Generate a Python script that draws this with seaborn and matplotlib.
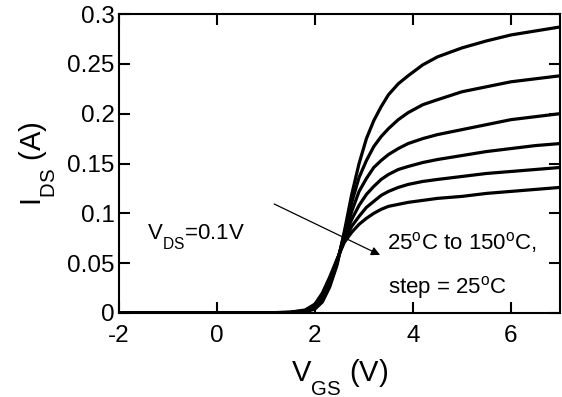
import pandas as pd
import seaborn as sns
import matplotlib.pyplot as plt
import matplotlib._mathtext as mathtext_internal

# gate voltage samples (V)
vgs = [-2, 0, 1, 1.5, 1.8, 2.0, 2.15, 2.3, 2.45, 2.6, 2.75, 2.9, 3.05, 3.2, 3.35,
       3.5, 3.7, 3.9, 4.2, 4.5, 5.0, 5.5, 6.0, 6.5, 7.0]

# drain current (A), 25C .. 150C
ids_25 = [0, 0, 0, 0.0002, 0.001, 0.004, 0.011, 0.026, 0.048, 0.082, 0.119, 0.150, 0.175,
          0.193, 0.207, 0.219, 0.230, 0.238, 0.249, 0.257, 0.266, 0.273, 0.279, 0.283, 0.287]
ids_50 = [0, 0, 0, 0.0003, 0.0013, 0.005, 0.012, 0.028, 0.050, 0.080, 0.111, 0.136, 0.153,
          0.167, 0.177, 0.185, 0.194, 0.201, 0.209, 0.214, 0.222, 0.227, 0.232, 0.235, 0.238]
ids_75 = [0, 0, 0, 0.0004, 0.0017, 0.006, 0.014, 0.030, 0.051, 0.078, 0.102, 0.122, 0.135,
          0.146, 0.153, 0.159, 0.165, 0.170, 0.175, 0.179, 0.184, 0.189, 0.194, 0.197, 0.200]
ids_100 = [0, 0, 0, 0.0005, 0.002, 0.007, 0.016, 0.032, 0.052, 0.076, 0.094, 0.108, 0.119,
           0.127, 0.134, 0.139, 0.144, 0.147, 0.151, 0.154, 0.158, 0.162, 0.165, 0.168, 0.170]
ids_125 = [0, 0, 0.0001, 0.0007, 0.0025, 0.008, 0.018, 0.034, 0.053, 0.073, 0.087, 0.097, 0.106,
           0.112, 0.118, 0.122, 0.126, 0.129, 0.132, 0.134, 0.137, 0.140, 0.142, 0.144, 0.146]
ids_150 = [0, 0, 0.0001, 0.0009, 0.003, 0.009, 0.020, 0.036, 0.054, 0.071, 0.081, 0.089, 0.095,
           0.100, 0.104, 0.107, 0.109, 0.111, 0.113, 0.115, 0.117, 0.120, 0.122, 0.124, 0.126]

temps = [25, 50, 75, 100, 125, 150]
curves = [ids_25, ids_50, ids_75, ids_100, ids_125, ids_150]

rows = []
for t, c in zip(temps, curves):
    for v, i in zip(vgs, c):
        rows.append({'VGS': v, 'IDS': i, 'T': t})
df = pd.DataFrame(rows)

sns.set_style('ticks')
plt.rcParams['font.family'] = ['Liberation Sans', 'DejaVu Sans']
plt.rcParams['mathtext.fontset'] = 'custom'
plt.rcParams['mathtext.rm'] = 'Liberation Sans'
plt.rcParams['mathtext.it'] = 'Liberation Sans'
plt.rcParams['text.color'] = 'black'
plt.rcParams['axes.labelcolor'] = 'black'

# subscripts in the original sit well below the baseline
try:
    mathtext_internal.FontConstantsBase.sub1 = 0.9
except Exception:
    pass

fig = plt.figure(figsize=(5.62, 3.97), dpi=100)
ax = fig.add_axes([0.2117, 0.2116, 0.7847, 0.7531])

sns.lineplot(data=df, x='VGS', y='IDS', hue='T', palette=['black'] * 6,
             linewidth=2.3, legend=False, ax=ax)

ax.set_xlim(-2, 7)
ax.set_ylim(0, 0.3)
ax.set_xticks([-2, 0, 2, 4, 6])
ax.set_xticklabels(['-2', '0', '2', '4', '6'])
ax.set_yticks([0, 0.05, 0.1, 0.15, 0.2, 0.25, 0.3])
ax.set_yticklabels(['0', '0.05', '0.1', '0.15', '0.2', '0.25', '0.3'])
ax.tick_params(direction='in', top=True, right=True, length=8, width=1.5,
               labelsize=17.5, colors='black')
ax.tick_params(axis='x', pad=9)
ax.tick_params(axis='y', pad=3)
for s in ax.spines.values():
    s.set_linewidth(1.5)
    s.set_color('black')

ax.set_xlabel(r'$\mathregular{V_{GS}}$ (V)', fontsize=21, labelpad=7)
ax.set_ylabel(r'$\mathregular{I_{DS}}$ (A)', fontsize=21, labelpad=7)

ax.text(-1.42, 0.074, r'$\mathregular{V_{DS}}$=0.1V', fontsize=16)
ax.annotate('', xy=(3.38, 0.057), xytext=(1.116, 0.1106),
            arrowprops=dict(arrowstyle='-|>', color='black', lw=0.9,
                            mutation_scale=13))
ax.text(3.47, 0.064, r'25$^\mathregular{o}$C to 150$^\mathregular{o}$C,', fontsize=16)
ax.text(3.49, 0.02, r'step = 25$^\mathregular{o}$C', fontsize=16)

fig.savefig('out.png', dpi=100)
